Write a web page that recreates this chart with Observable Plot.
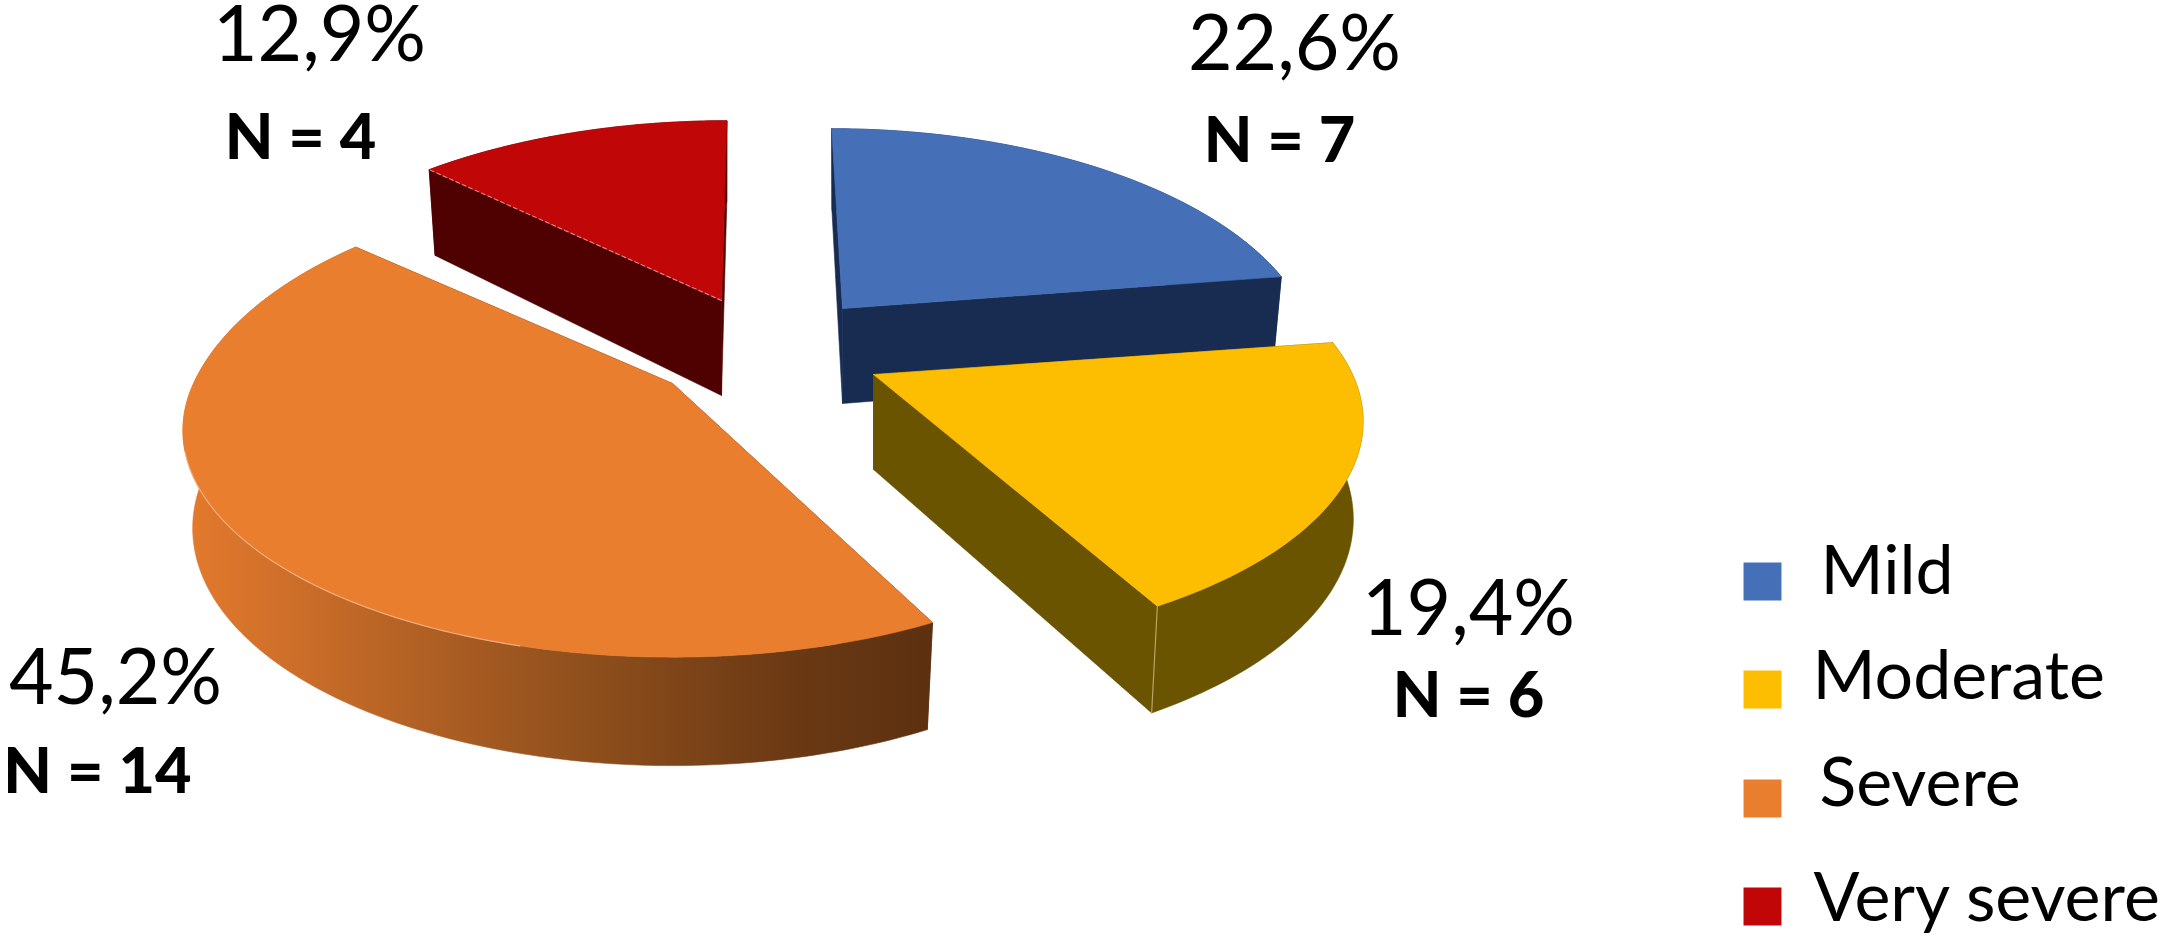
<!DOCTYPE html>
<html>
<head>
<meta charset="utf-8">
<style>html,body{margin:0;padding:0;background:#fff}svg{display:block}</style>
<script src="https://cdn.jsdelivr.net/npm/d3@7"></script>
<script src="https://cdn.jsdelivr.net/npm/@observablehq/plot@0.6"></script>
</head>
<body>
<div id="chart"></div>
<script>
// Data
const categories = ["Mild", "Moderate", "Severe", "Very severe"];
const counts = [7, 6, 14, 4];
const percentLabels = ["22,6%", "19,4%", "45,2%", "12,9%"];
const countLabels = ["N = 7", "N = 6", "N = 14", "N = 4"];

// Styling and layout of the exploded perspective pie
const topColors = ["#4570b8", "#fdbe02", "#e97e2f", "#c00606"];
const sideColors = ["#182c52", "#6a5400", "url(#severeWall)", "#4f0000"];
const explodeX = [842, 873, 672, 721];
const explodeY = [308, 374, 383, 300];
const radiusScale = [0.96, 1, 1, 0.975];
const backBulge = [0, 0, 0.09, 0];
const shear = [0.06, 0, 0, -0.03];
const startTweak = [0, 0, 2.8, 0];
const percentX = [1294, 1468, 115, 319], percentY = [69, 634, 703, 60];
const countX = [1279, 1468, 97, 300], countY = [161, 716, 792, 158];
const legendSwatchX = 1762, legendSwatchY = [581, 689, 798, 906];
const legendTextX = [1820, 1812, 1819, 1813], legendTextY = [593, 698, 805, 920];
const R = 479, S = 217, K = 0.207;

const total = d3.sum(counts);
const cum = d3.cumsum(counts);
const slices = categories.map((c, i) => ({
  i, c,
  a0: ((cum[i] - counts[i]) / total) * 360 + startTweak[i],
  a1: (cum[i] / total) * 360
}));

function project(s, deg, lower) {
  const t = deg * Math.PI / 180;
  const c = Math.cos(t);
  const w = 1 + K * c;
  const f = 1 + backBulge[s.i] * Math.max(0, c) ** 2;
  const dx = f * R * radiusScale[s.i] * Math.sin(t) / w;
  const dy = -f * S * c / w;
  const depth = 95 + 65 * (1 - w);
  const sx = dx + shear[s.i] * dy;
  return lower
    ? [explodeX[s.i] + 0.98 * sx, explodeY[s.i] + dy + depth]
    : [explodeX[s.i] + sx, explodeY[s.i] + dy];
}
function arc(s, lower) {
  const pts = [];
  for (let d = s.a0; d < s.a1; d += 1) pts.push(project(s, d, lower));
  pts.push(project(s, s.a1, lower));
  return pts;
}
function apex(s, lower) {
  return [explodeX[s.i], explodeY[s.i] + (lower ? 95 : 0)];
}
const px = d => d[0], py = d => d[1];
const face = (pts, fill) => Plot.line(pts.concat([pts[0]]), {x: px, y: py, fill, stroke: fill, strokeWidth: 0.6});

const marks = [
  () => {
    const ns = "http://www.w3.org/2000/svg";
    const defs = document.createElementNS(ns, "defs");
    const g = document.createElementNS(ns, "linearGradient");
    g.setAttribute("id", "severeWall");
    [["0", "#e47a2d"], ["0.2", "#c46a28"], ["0.5", "#94521e"], ["0.8", "#6c3a14"], ["1", "#5c3010"]].forEach(([o, c]) => {
      const st = document.createElementNS(ns, "stop");
      st.setAttribute("offset", o);
      st.setAttribute("stop-color", c);
      g.appendChild(st);
    });
    defs.appendChild(g);
    return defs;
  }
];

// Painter's order: back slices first
for (const idx of [0, 3, 2, 1]) {
  const s = slices[idx];
  const side = sideColors[idx], top = topColors[idx];
  const flat = side.startsWith("url") ? "#5c3010" : side;
  const A = apex(s, false), B = apex(s, true);
  marks.push(face([A, project(s, s.a0, false), project(s, s.a0, true), B], flat));
  marks.push(face([A, project(s, s.a1, false), project(s, s.a1, true), B], flat));
  marks.push(face(arc(s, false).concat(arc(s, true).reverse()), side));
  marks.push(face([A].concat(arc(s, false)), top));
}

// Thin light edges left by the 3D rendering
const [mild, moderate, severe, verySevere] = slices;
marks.push(
  Plot.line(arc(severe, false).filter((d, i) => i > 40 && i < 100), {x: px, y: py, stroke: "#f6c09a", strokeWidth: 1.2, strokeOpacity: 0.7}),
  Plot.line([project(moderate, moderate.a1, false), project(moderate, moderate.a1, true)], {x: px, y: py, stroke: "#b8a468", strokeWidth: 1.2}),
  Plot.line([apex(verySevere, false), project(verySevere, verySevere.a0, false)], {x: px, y: py, stroke: "#e8a0a0", strokeWidth: 1.2, strokeDasharray: "4,3", strokeOpacity: 0.8})
);

const table = categories.map((c, i) => ({c, i}));
marks.push(
  Plot.dot(table, {x: () => legendSwatchX, y: d => legendSwatchY[d.i], symbol: "square", r: 21.4, fill: d => topColors[d.i], stroke: "none"}),
  Plot.text(table, {x: d => legendTextX[d.i], y: d => legendTextY[d.i], text: "c", textAnchor: "start", lineAnchor: "bottom", fontSize: 68, fontFamily: "Lato", fill: "#000"}),
  Plot.text(table, {x: d => percentX[d.i], y: d => percentY[d.i], text: d => percentLabels[d.i], textAnchor: "middle", lineAnchor: "bottom", fontSize: 77, fontFamily: "Lato", fill: "#000"}),
  Plot.text(table, {x: d => countX[d.i], y: d => countY[d.i], text: d => countLabels[d.i], textAnchor: "middle", lineAnchor: "bottom", fontSize: 63, fontWeight: 900, fontFamily: "Lato", fill: "#000"})
);

const chart = Plot.plot({
  width: 2167, height: 936,
  margin: 0,
  x: {domain: [0, 2167], range: [0, 2167], axis: null},
  y: {domain: [0, 936], range: [0, 936], axis: null},
  style: {background: "#fff"},
  marks
});
document.getElementById("chart").appendChild(chart);
</script>
</body>
</html>
